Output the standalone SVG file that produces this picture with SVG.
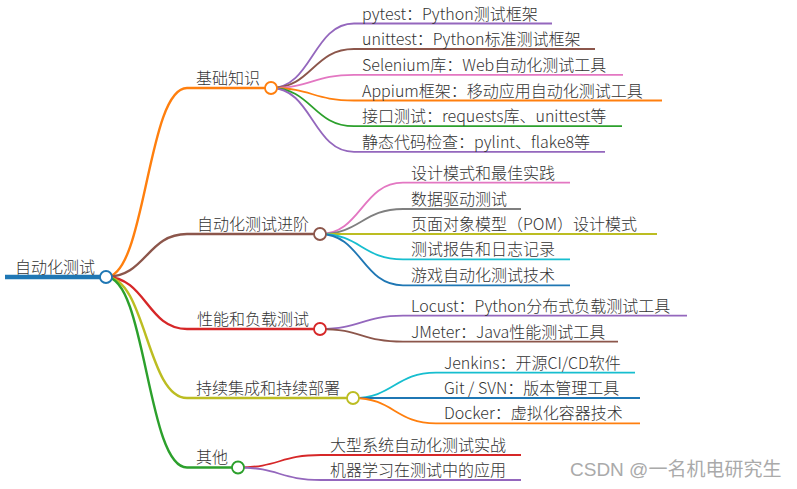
<svg xmlns="http://www.w3.org/2000/svg" width="797" height="489" viewBox="0 0 797 489">
<style>
text{font-family:"Noto Sans CJK SC","Noto Sans",sans-serif;font-size:16px;font-weight:300;fill:#333}
.l1{fill:none;stroke-width:2.4}
.l2{fill:none;stroke-width:1.8}
.c{fill:#fff;stroke-width:1.8}
.wm{font-size:19px;font-weight:400;fill:#aaa;font-family:"Liberation Sans","Noto Sans CJK SC",sans-serif}
</style>
<rect width="797" height="489" fill="#fff"/>
<g id="connectors">
<path class="l1" stroke="#ff7f0e" d="M106 277 C146 277 147 88 187 88 H265"/>
<path class="l1" stroke="#8c564b" d="M106 277 C146 277 147 234 187 234 H314"/>
<path class="l1" stroke="#d62728" d="M106 277 C146 277 147 329 187 329 H314"/>
<path class="l1" stroke="#bcbd22" d="M106 277 C146 277 147 398 187 398 H347"/>
<path class="l1" stroke="#2ca02c" d="M106 277 C146 277 147 467.5 187 467.5 H232"/>
<path class="l2" stroke="#9467bd" d="M271 88 C312 88 313 23.5 354 23.5 H552"/>
<path class="l2" stroke="#8c564b" d="M271 88 C312 88 313 49 354 49 H595"/>
<path class="l2" stroke="#e377c2" d="M271 88 C312 88 313 74.8 354 74.8 H623"/>
<path class="l2" stroke="#ff7f0e" d="M271 88 C312 88 313 100.5 354 100.5 H662"/>
<path class="l2" stroke="#2ca02c" d="M271 88 C312 88 313 126.2 354 126.2 H622"/>
<path class="l2" stroke="#9467bd" d="M271 88 C312 88 313 151.8 354 151.8 H605"/>
<path class="l2" stroke="#e377c2" d="M320 234 C361 234 362 182.7 403 182.7 H570"/>
<path class="l2" stroke="#7f7f7f" d="M320 234 C361 234 362 209 403 209 H521"/>
<path class="l2" stroke="#bcbd22" d="M320 234 H657"/>
<path class="l2" stroke="#17becf" d="M320 234 C361 234 362 259.3 403 259.3 H570"/>
<path class="l2" stroke="#1f77b4" d="M320 234 C361 234 362 285.3 403 285.3 H570"/>
<path class="l2" stroke="#9467bd" d="M320 329 C361 329 362 315.7 403 315.7 H687"/>
<path class="l2" stroke="#8c564b" d="M320 329 C361 329 362 341.7 403 341.7 H618"/>
<path class="l2" stroke="#17becf" d="M353 398 C394 398 395 372.7 436 372.7 H635"/>
<path class="l2" stroke="#1f77b4" d="M353 398 H640"/>
<path class="l2" stroke="#ff7f0e" d="M353 398 C394 398 395 423.3 436 423.3 H640"/>
<path class="l2" stroke="#d62728" d="M238 467.5 C279 467.5 280 455 321 455 H521"/>
<path class="l2" stroke="#9467bd" d="M238 467.5 C279 467.5 280 480 321 480 H521"/>
</g>
<g id="root">
<path d="M5 277 H100" stroke="#1f77b4" stroke-width="4.5" fill="none"/>
<text x="15" y="273">自动化测试</text>
<circle class="c" cx="106" cy="277" r="6" stroke="#1f77b4"/>
</g>
<g id="n-jichu">
<text x="196" y="83.5">基础知识</text>
<circle class="c" cx="271" cy="88" r="6" stroke="#ff7f0e"/>
</g>
<g id="n-jinjie">
<text x="197" y="229.5">自动化测试进阶</text>
<circle class="c" cx="320" cy="234" r="6" stroke="#8c564b"/>
</g>
<g id="n-xingneng">
<text x="197" y="324.5">性能和负载测试</text>
<circle class="c" cx="320" cy="329" r="6" stroke="#d62728"/>
</g>
<g id="n-chixu">
<text x="196" y="393.5">持续集成和持续部署</text>
<circle class="c" cx="353" cy="398" r="6" stroke="#bcbd22"/>
</g>
<g id="n-qita">
<text x="196" y="463">其他</text>
<circle class="c" cx="238" cy="467.5" r="6" stroke="#2ca02c"/>
</g>
<g id="n-pytest"><text x="362" y="19.5">pytest：Python测试框架</text></g>
<g id="n-unittest"><text x="362" y="45">unittest：Python标准测试框架</text></g>
<g id="n-selenium"><text x="362" y="70.8">Selenium库：Web自动化测试工具</text></g>
<g id="n-appium"><text x="362" y="96.5">Appium框架：移动应用自动化测试工具</text></g>
<g id="n-api"><text x="362" y="122.2">接口测试：requests库、unittest等</text></g>
<g id="n-lint"><text x="362" y="147.8">静态代码检查：pylint、flake8等</text></g>
<g id="n-design"><text x="411" y="178.7">设计模式和最佳实践</text></g>
<g id="n-data"><text x="411" y="205">数据驱动测试</text></g>
<g id="n-pom"><text x="411" y="230">页面对象模型（POM）设计模式</text></g>
<g id="n-report"><text x="411" y="255.3">测试报告和日志记录</text></g>
<g id="n-game"><text x="411" y="281.3">游戏自动化测试技术</text></g>
<g id="n-locust"><text x="411" y="311.7">Locust：Python分布式负载测试工具</text></g>
<g id="n-jmeter"><text x="411" y="337.7">JMeter：Java性能测试工具</text></g>
<g id="n-jenkins"><text x="444" y="368.7">Jenkins：开源CI/CD软件</text></g>
<g id="n-git"><text x="444" y="394.3">Git / SVN：版本管理工具</text></g>
<g id="n-docker"><text x="444" y="419.3">Docker：虚拟化容器技术</text></g>
<g id="n-large"><text x="330" y="451">大型系统自动化测试实战</text></g>
<g id="n-ml"><text x="330" y="476">机器学习在测试中的应用</text></g>
<text class="wm" x="570" y="476">CSDN @一名机电研究生</text>
</svg>
